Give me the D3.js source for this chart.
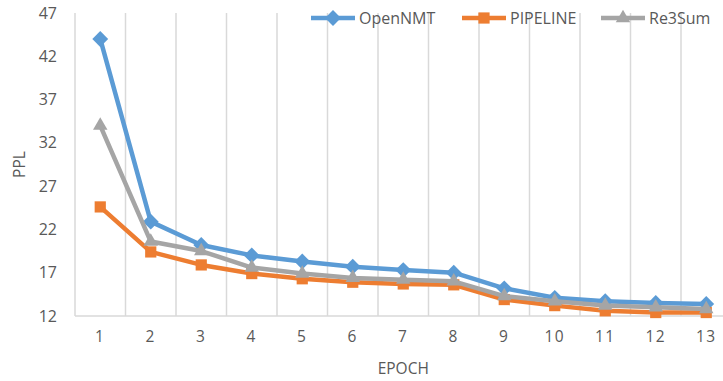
<!DOCTYPE html>
<html>
<head>
<meta charset="utf-8">
<script src="https://cdn.jsdelivr.net/npm/d3@7"></script>
<style>
  html, body { margin: 0; padding: 0; background: #fff; }
  svg { display: block; }
  text { font-family: "Open Sans", "Liberation Sans", sans-serif; fill: #595959; }
</style>
</head>
<body>
<svg id="chart" width="723" height="381"></svg>
<script>
// Perplexity per training epoch for three summarization models
const epochs = ["1", "2", "3", "4", "5", "6", "7", "8", "9", "10", "11", "12", "13"];
const openNMT  = [44.0, 22.9, 20.2, 19.0, 18.3, 17.7, 17.3, 17.0, 15.2, 14.1, 13.7, 13.5, 13.4];
const pipeline = [24.6, 19.4, 17.9, 16.9, 16.3, 15.9, 15.7, 15.6, 13.9, 13.2, 12.6, 12.4, 12.4];
const re3Sum   = [34.0, 20.6, 19.5, 17.6, 16.9, 16.4, 16.2, 16.0, 14.3, 13.7, 13.2, 13.0, 12.8];
const yTicks = [12, 17, 22, 27, 32, 37, 42, 47];

const series = [
  { name: "OpenNMT",  values: openNMT,  color: "#5B9BD5", symbol: d3.symbolDiamond2,  size: 160 },
  { name: "PIPELINE", values: pipeline, color: "#ED7D31", symbol: d3.symbolSquare2,   size: 160 },
  { name: "Re3Sum",   values: re3Sum,   color: "#A5A5A5", symbol: d3.symbolTriangle2, size: 150 }
];

const svg = d3.select("#chart");
const plot = { left: 75, right: 731.5, top: 13, bottom: 316 };

const x = d3.scaleBand().domain(epochs).range([plot.left, plot.right]);
const y = d3.scaleLinear().domain([12, 47]).range([plot.bottom, plot.top]);

// vertical gridlines at category boundaries
const edges = epochs.map(e => x(e)).concat([plot.right]);
svg.append("g").selectAll("line").data(edges).join("line")
  .attr("x1", d => d).attr("x2", d => d)
  .attr("y1", plot.top).attr("y2", plot.bottom)
  .attr("stroke", "#D9D9D9").attr("stroke-width", 1.5);

// category axis baseline
svg.append("line")
  .attr("x1", plot.left).attr("x2", plot.right)
  .attr("y1", plot.bottom).attr("y2", plot.bottom)
  .attr("stroke", "#D9D9D9").attr("stroke-width", 1.5);

// y tick labels
const yAxis = svg.append("g").attr("transform", `translate(${plot.left},0)`)
  .call(d3.axisLeft(y).tickValues(yTicks).tickSize(0).tickPadding(18));
yAxis.select(".domain").remove();
yAxis.selectAll("text").style("font-size", "16px").style("font-family", "Open Sans").attr("fill", "#595959");

// x tick labels
const xAxis = svg.append("g").attr("transform", `translate(0,${plot.bottom})`)
  .call(d3.axisBottom(x).tickSize(0).tickPadding(15));
xAxis.select(".domain").remove();
xAxis.selectAll("text").style("font-size", "15.5px").style("font-family", "Open Sans")
  .attr("fill", "#595959").attr("letter-spacing", "1.5px");

// axis titles
svg.append("text")
  .attr("x", (plot.left + plot.right) / 2).attr("y", 374)
  .attr("text-anchor", "middle").style("font-size", "15.5px").text("EPOCH");
svg.append("text")
  .attr("transform", `translate(25,${(plot.top + plot.bottom) / 2}) rotate(-90)`)
  .attr("text-anchor", "middle").style("font-size", "15.5px").text("PPL");

// series lines and markers
const line = d3.line()
  .x((d, i) => x(epochs[i]) + x.bandwidth() / 2)
  .y(d => y(d));

series.forEach(s => {
  const g = svg.append("g");
  g.append("path").datum(s.values)
    .attr("d", line).attr("fill", "none")
    .attr("stroke", s.color).attr("stroke-width", 4.5)
    .attr("stroke-linejoin", "round");
  g.selectAll("path.m").data(s.values).join("path").attr("class", "m")
    .attr("d", d3.symbol().type(s.symbol).size(s.size))
    .attr("transform", (d, i) => `translate(${x(epochs[i]) + x.bandwidth() / 2},${y(d)})`)
    .attr("fill", s.color);
});

// legend
const legendX = [311, 462, 601];
series.forEach((s, i) => {
  const g = svg.append("g").attr("transform", `translate(${legendX[i]},18)`);
  g.append("line").attr("x1", 0).attr("x2", 44).attr("y1", 0).attr("y2", 0)
    .attr("stroke", s.color).attr("stroke-width", 4.5);
  g.append("path").attr("d", d3.symbol().type(s.symbol).size(s.size))
    .attr("transform", "translate(22,0)").attr("fill", s.color);
  g.append("text").attr("x", 48).attr("y", 0).attr("dy", "0.35em")
    .style("font-size", "16px").text(s.name);
});
</script>
</body>
</html>
